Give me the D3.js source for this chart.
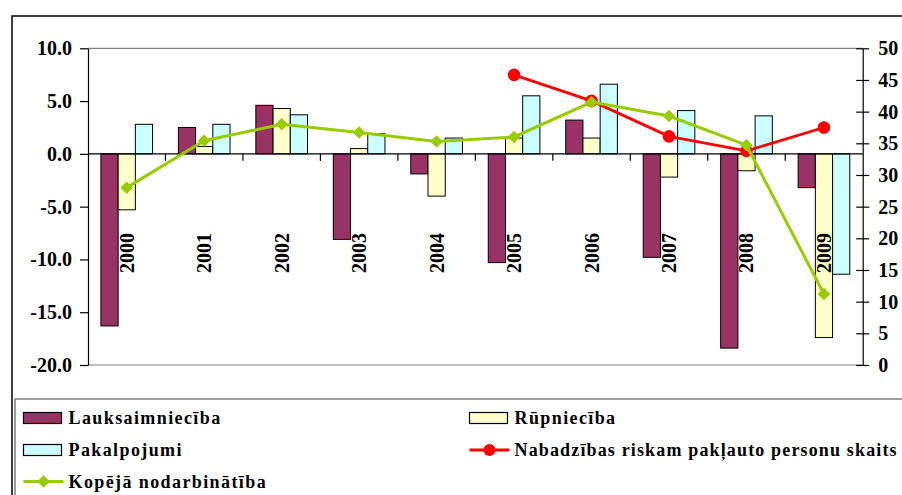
<!DOCTYPE html>
<html>
<head>
<meta charset="utf-8">
<script src="https://cdn.jsdelivr.net/npm/d3@7"></script>
<style>
  body { margin: 0; background: #fff; }
  svg { display: block; }
</style>
</head>
<body>
<div id="chart"></div>
<script>
// chart data
const years = ["2000", "2001", "2002", "2003", "2004", "2005", "2006", "2007", "2008", "2009"];
const lauksaimnieciba = [-16.3, 2.5, 4.6, -8.1, -1.9, -10.3, 3.2, -9.8, -18.4, -3.2];
const rupnieciba = [-5.3, 0.7, 4.3, 0.5, -4.0, 1.5, 1.5, -2.2, -1.6, -17.4];
const pakalpojumi = [2.8, 2.8, 3.7, 1.9, 1.5, 5.5, 6.6, 4.1, 3.6, -11.4];
const nabadzibas = [null, null, null, null, null, 45.8, 41.7, 36.1, 33.8, 37.5];
const kopeja = [28.0, 35.4, 38.0, 36.7, 35.3, 36.0, 41.5, 39.3, 34.7, 11.2];
const leftTicks = [10, 5, 0, -5, -10, -15, -20];
const rightTicks = [0, 5, 10, 15, 20, 25, 30, 35, 40, 45, 50];

const barSeries = [
  { name: "Lauksaimniecība", values: lauksaimnieciba, color: "#993366" },
  { name: "Rūpniecība", values: rupnieciba, color: "#FFFFCC" },
  { name: "Pakalpojumi", values: pakalpojumi, color: "#CCFFFF" },
];

const FONT = "'Liberation Serif', 'Times New Roman', serif";
const width = 902, height = 495;
const plot = { left: 88, right: 862.7, top: 48.3, bottom: 365 };

const svg = d3.select("#chart").append("svg")
  .attr("width", width)
  .attr("height", height)
  .style("font-family", FONT)
  .style("font-weight", "bold");

// outer chart frame
svg.append("path")
  .attr("d", `M12,${height + 2}V16H${width + 5}`)
  .attr("fill", "none")
  .attr("stroke", "#000")
  .attr("stroke-width", 1.5);

// scales
const x0 = d3.scaleBand().domain(years).range([plot.left, plot.right]).padding(0);
const bw = x0.bandwidth();
const gap = bw * 1.5 / 4.5;
const x1 = d3.scaleBand().domain(barSeries.map(s => s.name)).range([gap / 2, bw - gap / 2]);
const yL = d3.scaleLinear().domain([-20, 10]).range([plot.bottom, plot.top]);
const yR = d3.scaleLinear().domain([0, 50]).range([plot.bottom, plot.top]);

// plot area top/bottom border
[plot.top, plot.bottom].forEach(y => {
  svg.append("line")
    .attr("x1", plot.left).attr("x2", plot.right)
    .attr("y1", y).attr("y2", y)
    .attr("stroke", "#808080").attr("stroke-width", 1.2);
});

// bars
const groups = svg.append("g").selectAll("g")
  .data(barSeries)
  .join("g")
  .attr("fill", d => d.color);

groups.selectAll("rect")
  .data(s => s.values.map((v, i) => ({ name: s.name, year: years[i], value: v })))
  .join("rect")
  .attr("x", d => x0(d.year) + x1(d.name))
  .attr("width", x1.bandwidth())
  .attr("y", d => yL(Math.max(0, d.value)))
  .attr("height", d => Math.abs(yL(d.value) - yL(0)))
  .attr("stroke", "#000")
  .attr("stroke-width", 1);

// left axis
const leftAxis = d3.axisLeft(yL)
  .tickValues(leftTicks)
  .tickFormat(d => d.toFixed(1))
  .tickSize(8)
  .tickSizeOuter(0)
  .tickPadding(8);
const gL = svg.append("g")
  .attr("transform", `translate(${plot.left},0)`)
  .call(leftAxis)
  .attr("font-family", null)
  .attr("font-size", null);
gL.select(".domain").attr("stroke", "#000").attr("stroke-width", 1.2);
gL.selectAll(".tick line").attr("stroke", "#000").attr("stroke-width", 1.2);
gL.selectAll(".tick text")
  .style("font-size", "20px")
  .style("font-family", FONT)
  .style("font-weight", "bold");

// right axis with crossing ticks
const rightAxis = d3.axisRight(yR)
  .tickValues(rightTicks)
  .tickSize(6.5)
  .tickSizeOuter(0)
  .tickPadding(10);
const gR = svg.append("g")
  .attr("transform", `translate(${plot.right},0)`)
  .call(rightAxis)
  .attr("font-family", null)
  .attr("font-size", null);
gR.select(".domain").attr("stroke", "#000").attr("stroke-width", 1.2);
gR.selectAll(".tick line")
  .attr("x1", -6.5)
  .attr("stroke", "#000").attr("stroke-width", 1.2);
gR.selectAll(".tick text")
  .attr("x", 15.5)
  .style("font-size", "20px")
  .style("font-family", FONT)
  .style("font-weight", "bold");

// category axis at zero
const zeroY = yL(0);
svg.append("line")
  .attr("x1", plot.left).attr("x2", plot.right)
  .attr("y1", zeroY).attr("y2", zeroY)
  .attr("stroke", "#000").attr("stroke-width", 1.2);
svg.append("g").selectAll("line")
  .data(years.slice(1))
  .join("line")
  .attr("x1", d => x0(d)).attr("x2", d => x0(d))
  .attr("y1", zeroY).attr("y2", zeroY + 7)
  .attr("stroke", "#000").attr("stroke-width", 1.2);

// rotated year labels
svg.append("g").selectAll("text")
  .data(years)
  .join("text")
  .attr("transform", d => `translate(${x0(d) + bw / 2 + 7},273) rotate(-90)`)
  .attr("text-anchor", "start")
  .style("font-size", "20px")
  .style("font-family", FONT)
  .text(d => d);

// lines
const pts = vals => vals.map((v, i) => ({ year: years[i], value: v })).filter(d => d.value != null);
const lineGen = d3.line()
  .x(d => x0(d.year) + bw / 2)
  .y(d => yR(d.value));

const nabPts = pts(nabadzibas);
svg.append("path")
  .datum(nabPts)
  .attr("d", lineGen)
  .attr("fill", "none")
  .attr("stroke", "#FF0000")
  .attr("stroke-width", 2.8);
svg.append("g").selectAll("circle")
  .data(nabPts)
  .join("circle")
  .attr("cx", d => x0(d.year) + bw / 2)
  .attr("cy", d => yR(d.value))
  .attr("r", 6.3)
  .attr("fill", "#FF0000");

const kopPts = pts(kopeja);
svg.append("path")
  .datum(kopPts)
  .attr("d", lineGen)
  .attr("fill", "none")
  .attr("stroke", "#99CC00")
  .attr("stroke-width", 3);
const diamond = d3.symbol().type(d3.symbolDiamond2).size(100);
svg.append("g").selectAll("path")
  .data(kopPts)
  .join("path")
  .attr("transform", d => `translate(${x0(d.year) + bw / 2},${yR(d.value)})`)
  .attr("d", diamond)
  .attr("fill", "#99CC00");

// legend
svg.append("path")
  .attr("d", `M15,${height + 2}V399H${width + 5}`)
  .attr("fill", "none")
  .attr("stroke", "#808080")
  .attr("stroke-width", 1.5);

const legendItems = [
  { name: "Lauksaimniecība", type: "bar", color: "#993366", col: 0, row: 0 },
  { name: "Rūpniecība", type: "bar", color: "#FFFFCC", col: 1, row: 0 },
  { name: "Pakalpojumi", type: "bar", color: "#CCFFFF", col: 0, row: 1 },
  { name: "Nabadzības riskam pakļauto personu skaits", type: "circle", color: "#FF0000", col: 1, row: 1 },
  { name: "Kopējā nodarbinātība", type: "diamond", color: "#99CC00", col: 0, row: 2 },
];
const colX = [23.5, 469.5];
const rowY = [418, 450, 481.5];

const li = svg.append("g").selectAll("g")
  .data(legendItems)
  .join("g")
  .attr("transform", d => `translate(${colX[d.col]},${rowY[d.row]})`);

li.filter(d => d.type === "bar").append("rect")
  .attr("x", 0).attr("y", -5.5)
  .attr("width", 38).attr("height", 11)
  .attr("fill", d => d.color)
  .attr("stroke", "#000").attr("stroke-width", 1.2);

li.filter(d => d.type !== "bar").append("line")
  .attr("x1", 0).attr("x2", 40)
  .attr("stroke", d => d.color)
  .attr("stroke-width", 2.8);
li.filter(d => d.type === "circle").append("circle")
  .attr("cx", 20).attr("r", 6)
  .attr("fill", d => d.color);
li.filter(d => d.type === "diamond").append("path")
  .attr("transform", "translate(20,0)")
  .attr("d", diamond)
  .attr("fill", d => d.color);

// long label gets a bit less spacing so it stays inside the window
li.append("text")
  .attr("x", 45)
  .attr("y", 6)
  .style("font-size", "18px")
  .style("font-family", FONT)
  .style("letter-spacing", d => d.name.length > 30 ? "1.15px" : "1.4px")
  .text(d => d.name);
</script>
</body>
</html>
